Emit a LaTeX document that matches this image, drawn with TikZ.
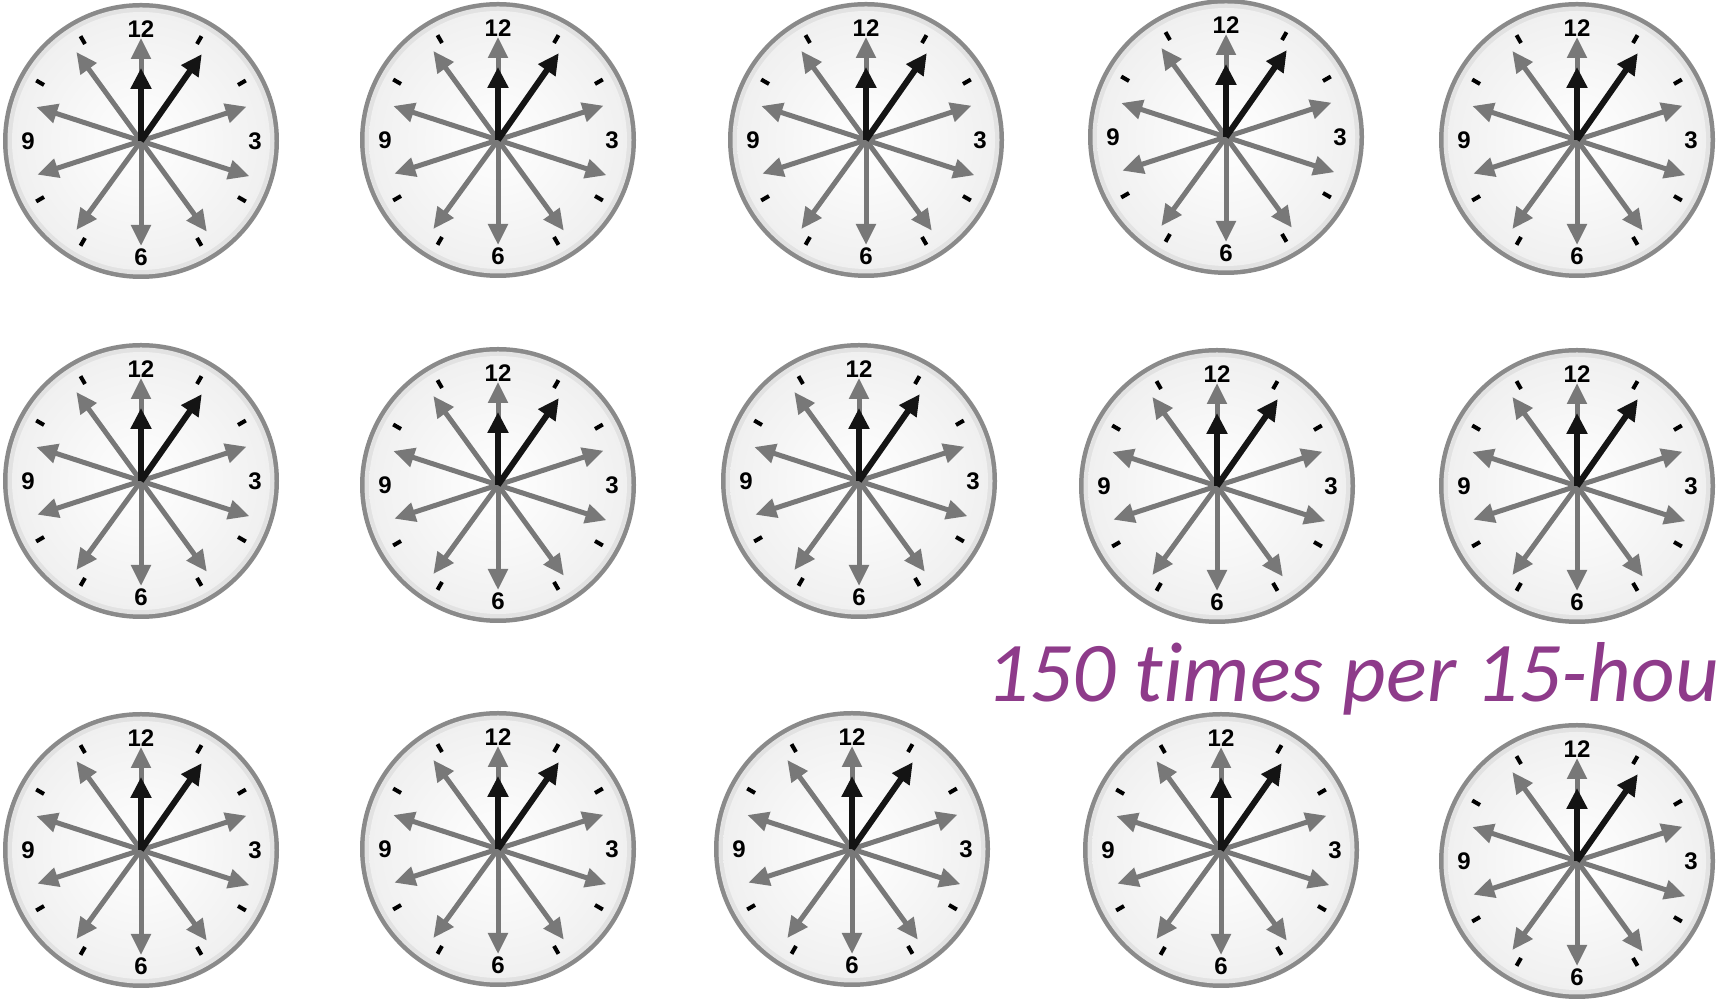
\documentclass[tikz,border=0pt]{standalone}
\usepackage{fontspec}
\setmainfont{Liberation Sans}
\newfontfamily\carlito[Ligatures=NoCommon]{Carlito}
\usetikzlibrary{arrows.meta}
\definecolor{ringdark}{HTML}{8A8A8A}
\definecolor{ringlight}{HTML}{E2E2E2}
\definecolor{facegray}{HTML}{F0F0F0}
\definecolor{handgray}{HTML}{787878}
\definecolor{handblack}{HTML}{141414}
\definecolor{textpurple}{HTML}{8E3B8A}
\tikzset{
  grayhand/.style={draw=handgray, line width=2.5pt, -{Triangle[length=10.5pt,width=9.5pt]}},
  blackhand/.style={draw=handblack, line width=3pt, -{Triangle[length=10.5pt,width=10pt]}},
  clocktick/.style={draw=black, line width=2pt},
  numlabel/.style={font=\bfseries\fontsize{12}{12}\selectfont, inner sep=0pt},
  clock/.pic={
    \fill[ringdark] (0,0) circle (138);
    \fill[ringlight] (0,0) circle (133.5);
    \shade[inner color=white, outer color=facegray] (0,0) circle (129);
    \foreach \a in {30,60,120,150,210,240,300,330}
      \draw[clocktick] (\a:112) -- (\a:121);
    \node[numlabel] (-n12) at (0,112) {12};
    \node[numlabel] (-n3) at (114,0) {3};
    \node[numlabel] (-n6) at (0,-116) {6};
    \node[numlabel] (-n9) at (-113,0) {9};
    \coordinate (-o) at (0,0);
    \foreach \a/\r in {90/103,126/110,162/110,198/109,234/110,270/105,306/112,342/114,18/111} {
      \coordinate (-g\a) at (\a:\r);
      \draw[grayhand] (-o) -- (-g\a);
    }
    \coordinate (-min) at (55:106);
    \coordinate (-hour) at (90:73);
    \draw[blackhand] (-o) -- (-min);
    \draw[blackhand] (-o) -- (-hour);
  }
}
\begin{document}
\begin{tikzpicture}[x=0.5pt,y=0.5pt]
\useasboundingbox (0,0) rectangle (1718,1000);
\clip (0,0) rectangle (1718,1000);
\pic (c11) at (141,859) {clock};
\pic (c12) at (498,860) {clock};
\pic (c13) at (866,860) {clock};
\pic (c14) at (1226,863) {clock};
\pic (c15) at (1577,860) {clock};
\pic (c21) at (141,519) {clock};
\pic (c22) at (498,515) {clock};
\pic (c23) at (859,519) {clock};
\pic (c24) at (1217,514) {clock};
\pic (c25) at (1577,514) {clock};
\pic (c31) at (141,150) {clock};
\pic (c32) at (498,151) {clock};
\pic (c33) at (852,151) {clock};
\pic (c34) at (1221,150) {clock};
\pic (c35) at (1577,139) {clock};
\node[anchor=base west, inner sep=0pt, text=textpurple, font=\carlito\itshape\fontsize{42.5}{42.5}\selectfont] (caption) at (986,298) {150 times per 15-hou};
\end{tikzpicture}
\end{document}
